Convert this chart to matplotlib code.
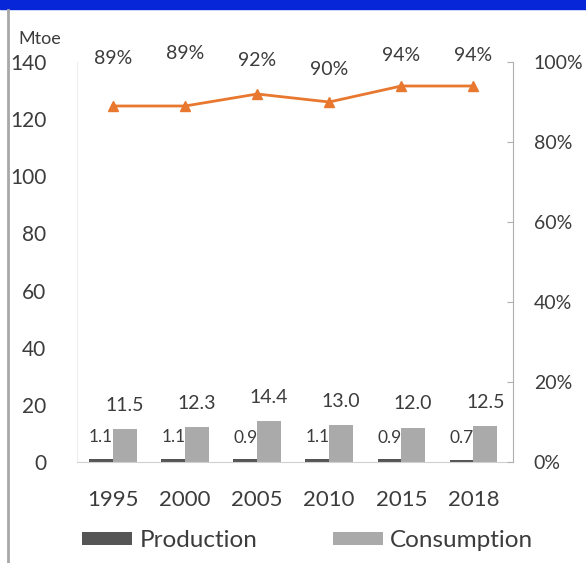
import numpy as np
import matplotlib.pyplot as plt
from matplotlib.patches import Rectangle
from matplotlib.lines import Line2D

plt.rcParams['font.family'] = ['Lato', 'DejaVu Sans']

years = ['1995', '2000', '2005', '2010', '2015', '2018']
production = [1.1, 1.1, 0.9, 1.1, 0.9, 0.7]
consumption = [11.5, 12.3, 14.4, 13.0, 12.0, 12.5]
import_share = [0.89, 0.89, 0.92, 0.90, 0.94, 0.94]
share_labels = ['89%', '89%', '92%', '90%', '94%', '94%']
# label offsets above the line, in points
share_offsets = [28, 32, 18, 17, 16, 16]

txt = '#3c3c3c'
fig = plt.figure(figsize=(5.86, 5.63), dpi=100)
fig.patches.append(Rectangle((0, 1 - 9 / 563), 1, 9 / 563, transform=fig.transFigure,
                             color='#0626d8', zorder=0))
fig.add_artist(Line2D([8 / 586, 8 / 586], [0, 1 - 10 / 563], transform=fig.transFigure,
                      color='#a8a8a8', lw=2))

ax = fig.add_axes([77 / 586, 101 / 563, 436 / 586, 400 / 563])
x = np.arange(len(years))
w = 0.33
ax.bar(x - w / 2, production, w, color='#555555', label='Production')
ax.bar(x + w / 2, consumption, w, color='#aaaaaa', label='Consumption')
for i in range(len(years)):
    ax.annotate(f'{production[i]:.1f}', (x[i] - w / 2, production[i]), xytext=(0, 10),
                textcoords='offset points', ha='center', va='bottom', fontsize=12.5, color=txt)
    ax.annotate(f'{consumption[i]:.1f}', (x[i] + w / 2, consumption[i]), xytext=(0, 11),
                textcoords='offset points', ha='center', va='bottom', fontsize=14, color=txt)

ax.set_xlim(-0.5, 5.55)
ax.set_ylim(0, 140)
ax.set_yticks(range(0, 141, 20))
ax.set_xticks(x)
ax.set_xticklabels(years)
ax.tick_params(axis='y', length=0, pad=22, labelsize=15, labelcolor=txt)
ax.tick_params(axis='x', length=0, pad=20, labelsize=16, labelcolor=txt)
for s in ['top', 'right']:
    ax.spines[s].set_visible(False)
ax.spines['left'].set_color('#eeeeee')
ax.spines['bottom'].set_color('#d0d0d0')
ax.text(-0.085, 1.045, 'Mtoe', transform=ax.transAxes, fontsize=13, color=txt, ha='center')

ax2 = ax.twinx()
ax2.plot(x, import_share, color='#e8782f', lw=2, marker='^', ms=7)
for i in range(len(years)):
    ax2.annotate(share_labels[i], (x[i], import_share[i]), xytext=(0, share_offsets[i]),
                 textcoords='offset points', ha='center', va='bottom', fontsize=14, color=txt)
ax2.set_ylim(0, 1)
ax2.set_yticks(np.arange(0, 1.01, 0.2))
ax2.set_yticklabels([f'{int(round(v * 100))}%' for v in np.arange(0, 1.01, 0.2)])
ax2.tick_params(axis='y', direction='in', length=4, color='#b0b0b0', pad=15,
                labelsize=14, labelcolor=txt)
for s in ['top', 'left', 'bottom']:
    ax2.spines[s].set_visible(False)
ax2.spines['right'].set_color('#b0b0b0')

ax.legend(loc='upper center', bbox_to_anchor=(0.529, -0.115), ncol=2, frameon=False,
          fontsize=17.5, labelcolor=txt, handlelength=2.05, handleheight=0.45,
          columnspacing=3.1, handletextpad=0.3)

fig.savefig('out.png', dpi=100)
